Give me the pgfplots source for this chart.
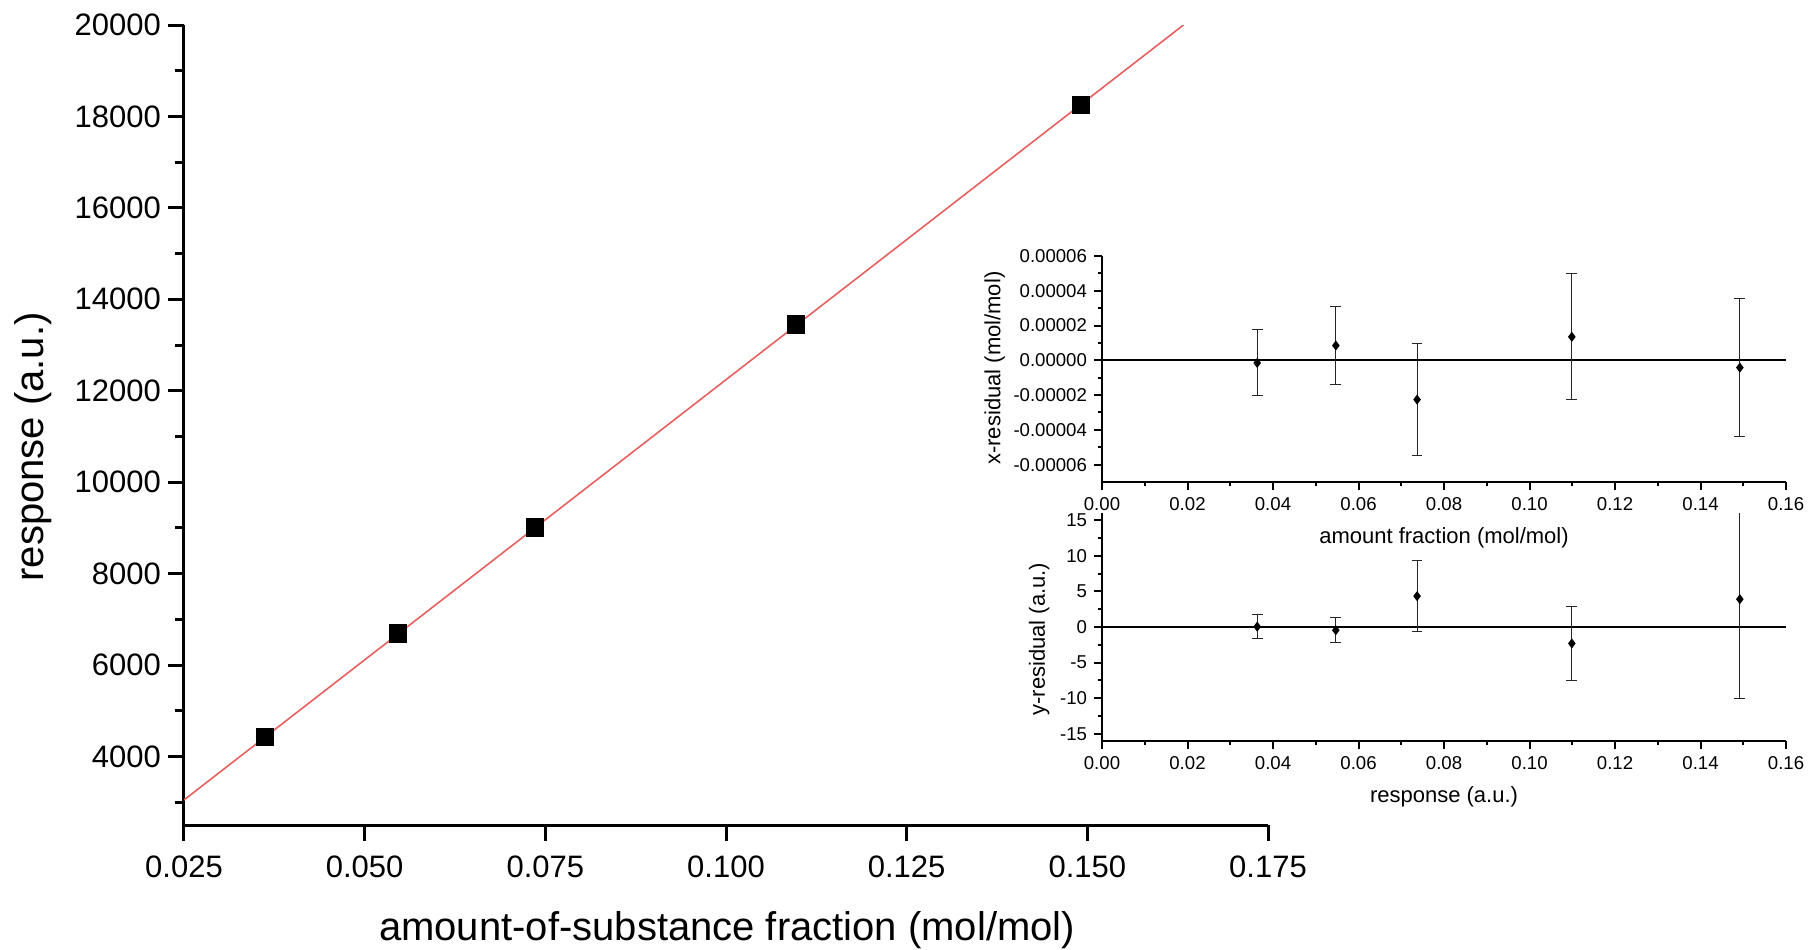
\documentclass[border=0pt]{standalone}
\usepackage{fontspec}
\setmainfont{Liberation Sans}
\usepackage{pgfplots}
\usepackage{pgfplotstable}
\pgfplotsset{compat=1.18}
\definecolor{fitred}{RGB}{230,96,96}

\pgfplotstableread{
x y
0.0362 4420
0.0546 6690
0.0736 9010
0.1097 13450
0.1491 18260
}\calib

\pgfplotstableread{
x y e
0.0363 -0.0000015 0.0000190
0.0547 0.0000085 0.0000223
0.0737 -0.0000226 0.0000322
0.1099 0.0000135 0.0000362
0.1492 -0.0000042 0.0000398
}\xres

\pgfplotstableread{
x y e
0.0363 0.05 1.71
0.0547 -0.45 1.74
0.0737 4.33 5.00
0.1099 -2.31 5.21
0.1492 3.90 13.95
}\yres

\begin{document}
\begin{tikzpicture}
\pgfplotsset{
  every axis/.append style={
    /pgf/number format/assume math mode=true,
    scaled ticks=false,
    axis lines=left,
    axis line style={-},
    tick align=outside,
    clip=true,
  }
}
% ---------- main calibration plot ----------
\begin{axis}[
  at={(0pt,0pt)}, anchor=south west,
  scale only axis, width=542pt, height=400pt,
  xmin=0.025, xmax=0.175, ymin=2500, ymax=20000,
  axis line style={line width=1.5pt},
  major tick length=8pt, minor tick length=4.5pt,
  every tick/.style={line width=1.5pt, black},
  xtick={0.025,0.050,0.075,0.100,0.125,0.150,0.175},
  ytick={4000,6000,8000,10000,12000,14000,16000,18000,20000},
  minor ytick={3000,5000,7000,9000,11000,13000,15000,17000,19000},
  xticklabel style={yshift=-4pt, /pgf/number format/.cd, fixed, fixed zerofill, precision=3},
  yticklabel style={/pgf/number format/1000 sep={}},
  tick label style={font=\fontsize{15.5}{17}\selectfont},
  xlabel={amount-of-substance fraction (mol/mol)},
  ylabel={response (a.u.)},
  xlabel style={at={(axis description cs:0.501,-0.131)}, anchor=center, font=\fontsize{20}{23}\selectfont},
  ylabel style={at={(axis description cs:-0.139,0.4725)}, anchor=center, font=\fontsize{20}{23}\selectfont},
]
\addplot[fitred, line width=0.8pt] coordinates {(0.025,3048) (0.1633,20000)};
\addplot[only marks, mark=square*, mark size=4.3pt, black] table[x=x,y=y] {\calib};
\end{axis}

% ---------- x-residual inset ----------
\begin{axis}[
  at={(459pt,171.5pt)}, anchor=south west,
  scale only axis, width=342pt, height=113pt,
  xmin=0, xmax=0.16, ymin=-0.00007, ymax=0.00006,
  axis line style={line width=1pt},
  major tick length=4pt, minor tick length=2pt,
  every tick/.style={line width=1pt, black},
  xtick={0,0.02,0.04,0.06,0.08,0.10,0.12,0.14,0.16},
  minor xtick={0.01,0.03,0.05,0.07,0.09,0.11,0.13,0.15},
  ytick={-0.00006,-0.00004,-0.00002,0,0.00002,0.00004,0.00006},
  minor ytick={-0.00005,-0.00003,-0.00001,0.00001,0.00003,0.00005},
  xticklabel style={/pgf/number format/.cd, fixed, fixed zerofill, precision=2},
  yticklabel style={/pgf/number format/.cd, fixed, fixed zerofill, precision=5},
  tick label style={font=\fontsize{9.3}{11}\selectfont},
  xlabel={amount fraction (mol/mol)},
  ylabel={x-residual (mol/mol)},
  xlabel style={at={(axis description cs:0.5,-0.248)}, anchor=center, font=\fontsize{11}{13}\selectfont},
  ylabel style={at={(axis description cs:-0.157,0.504)}, anchor=center, font=\fontsize{11}{13}\selectfont},
]
\addplot[black, line width=1pt] coordinates {(0,0) (0.16,0)};
\addplot[only marks, mark=diamond*, mark size=2.2pt, black,
  error bars/.cd, y dir=both, y explicit,
  error bar style={black!85, line width=0.5pt},
  error mark options={black!85, rotate=90, mark size=2.7pt, line width=0.5pt}]
  table[x=x, y=y, y error=e] {\xres};
\end{axis}

% ---------- y-residual inset ----------
\begin{axis}[
  at={(459pt,42pt)}, anchor=south west,
  scale only axis, width=342pt, height=114pt,
  xmin=0, xmax=0.16, ymin=-16, ymax=16,
  axis line style={line width=1pt},
  major tick length=4pt, minor tick length=2pt,
  every tick/.style={line width=1pt, black},
  xtick={0,0.02,0.04,0.06,0.08,0.10,0.12,0.14,0.16},
  minor xtick={0.01,0.03,0.05,0.07,0.09,0.11,0.13,0.15},
  ytick={-15,-10,-5,0,5,10,15},
  minor ytick={-12.5,-7.5,-2.5,2.5,7.5,12.5},
  xticklabel style={/pgf/number format/.cd, fixed, fixed zerofill, precision=2},
  tick label style={font=\fontsize{9.3}{11}\selectfont},
  xlabel={response (a.u.)},
  ylabel={y-residual (a.u.)},
  xlabel style={at={(axis description cs:0.5,-0.246)}, anchor=center, font=\fontsize{11}{13}\selectfont},
  ylabel style={at={(axis description cs:-0.092,0.447)}, anchor=center, font=\fontsize{11}{13}\selectfont},
]
\addplot[black, line width=1pt] coordinates {(0,0) (0.16,0)};
\addplot[only marks, mark=diamond*, mark size=2.2pt, black,
  error bars/.cd, y dir=both, y explicit,
  error bar style={black!85, line width=0.5pt},
  error mark options={black!85, rotate=90, mark size=2.7pt, line width=0.5pt}]
  table[x=x, y=y, y error=e] {\yres};
\end{axis}

\pgfresetboundingbox
\path[use as bounding box] (-92pt,-62pt) rectangle (816pt,412.5pt);
\end{tikzpicture}
\end{document}
